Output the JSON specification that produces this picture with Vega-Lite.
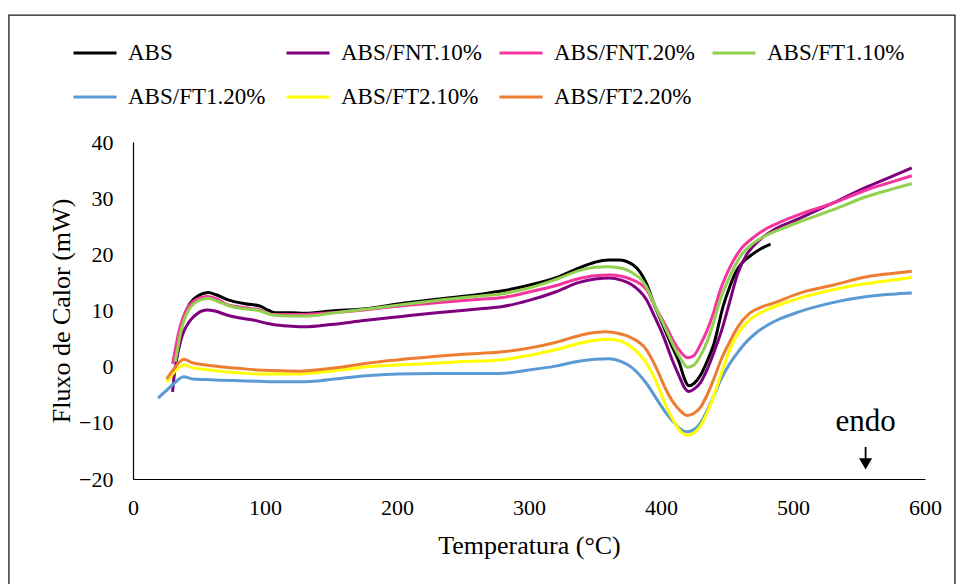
{
  "$schema": "https://vega.github.io/schema/vega-lite/v6.json",
  "width": 792,
  "height": 337,
  "padding": {"left": 8, "top": 14, "right": 0, "bottom": 0},
  "background": "white",
  "config": {
    "font": "Liberation Serif",
    "view": {"stroke": null},
    "style": {"guide-label": {"font": "Liberation Serif"}, "guide-title": {"font": "Liberation Serif"}},
    "axis": {"grid": false, "ticks": false, "tickSize": 0, "domainColor": "#000", "domainWidth": 1.2, "labelColor": "#000", "titleColor": "#000", "titleFontWeight": "normal", "labelFont": "Liberation Serif", "titleFont": "Liberation Serif"},
    "legend": {"labelFont": "Liberation Serif"}
  },
  "datasets": {
    "curves": [
      {"s":"ABS","t":32,"v":1.5},{"s":"ABS","t":35,"v":5.5},{"s":"ABS","t":38,"v":8.5},{"s":"ABS","t":43,"v":11.2},{"s":"ABS","t":50,"v":12.7},{"s":"ABS","t":57,"v":13.2},{"s":"ABS","t":63,"v":12.8},{"s":"ABS","t":72,"v":11.9},{"s":"ABS","t":85,"v":11.2},{"s":"ABS","t":96,"v":10.8},{"s":"ABS","t":103,"v":10.0},{"s":"ABS","t":108,"v":9.6},{"s":"ABS","t":120,"v":9.6},{"s":"ABS","t":130,"v":9.5},{"s":"ABS","t":150,"v":9.9},{"s":"ABS","t":180,"v":10.4},{"s":"ABS","t":202,"v":11.2},{"s":"ABS","t":230,"v":12.0},{"s":"ABS","t":263,"v":12.9},{"s":"ABS","t":280,"v":13.5},{"s":"ABS","t":300,"v":14.5},{"s":"ABS","t":320,"v":15.8},{"s":"ABS","t":338,"v":17.6},{"s":"ABS","t":350,"v":18.6},{"s":"ABS","t":360,"v":19.0},{"s":"ABS","t":368,"v":19.0},{"s":"ABS","t":379,"v":18.1},{"s":"ABS","t":389,"v":14.8},{"s":"ABS","t":395,"v":11.0},{"s":"ABS","t":402,"v":7.1},{"s":"ABS","t":408,"v":3.8},{"s":"ABS","t":414,"v":0.6},{"s":"ABS","t":418,"v":-2.3},{"s":"ABS","t":421,"v":-3.4},{"s":"ABS","t":425,"v":-3.0},{"s":"ABS","t":430,"v":-1.5},{"s":"ABS","t":435,"v":1.0},{"s":"ABS","t":440,"v":4.0},{"s":"ABS","t":447,"v":10.7},{"s":"ABS","t":452,"v":14.2},{"s":"ABS","t":457,"v":17.0},{"s":"ABS","t":462,"v":18.6},{"s":"ABS","t":468,"v":19.8},{"s":"ABS","t":475,"v":20.9},{"s":"ABS","t":483,"v":21.8},

      {"s":"ABS/FNT.10%","t":30,"v":-4.5},{"s":"ABS/FNT.10%","t":31,"v":-2.0},{"s":"ABS/FNT.10%","t":33,"v":1.2},{"s":"ABS/FNT.10%","t":36,"v":4.5},{"s":"ABS/FNT.10%","t":38,"v":6.0},{"s":"ABS/FNT.10%","t":42,"v":7.8},{"s":"ABS/FNT.10%","t":46,"v":8.9},{"s":"ABS/FNT.10%","t":51,"v":9.8},{"s":"ABS/FNT.10%","t":56,"v":10.1},{"s":"ABS/FNT.10%","t":62,"v":9.9},{"s":"ABS/FNT.10%","t":71,"v":9.2},{"s":"ABS/FNT.10%","t":80,"v":8.7},{"s":"ABS/FNT.10%","t":91,"v":8.3},{"s":"ABS/FNT.10%","t":100,"v":7.8},{"s":"ABS/FNT.10%","t":106,"v":7.5},{"s":"ABS/FNT.10%","t":120,"v":7.2},{"s":"ABS/FNT.10%","t":130,"v":7.1},{"s":"ABS/FNT.10%","t":150,"v":7.5},{"s":"ABS/FNT.10%","t":175,"v":8.2},{"s":"ABS/FNT.10%","t":202,"v":8.9},{"s":"ABS/FNT.10%","t":230,"v":9.6},{"s":"ABS/FNT.10%","t":263,"v":10.3},{"s":"ABS/FNT.10%","t":280,"v":10.7},{"s":"ABS/FNT.10%","t":300,"v":11.8},{"s":"ABS/FNT.10%","t":320,"v":13.3},{"s":"ABS/FNT.10%","t":338,"v":15.0},{"s":"ABS/FNT.10%","t":350,"v":15.6},{"s":"ABS/FNT.10%","t":361,"v":15.8},{"s":"ABS/FNT.10%","t":370,"v":15.4},{"s":"ABS/FNT.10%","t":377,"v":14.7},{"s":"ABS/FNT.10%","t":389,"v":11.9},{"s":"ABS/FNT.10%","t":395,"v":9.0},{"s":"ABS/FNT.10%","t":402,"v":5.3},{"s":"ABS/FNT.10%","t":408,"v":1.5},{"s":"ABS/FNT.10%","t":414,"v":-1.8},{"s":"ABS/FNT.10%","t":418,"v":-3.8},{"s":"ABS/FNT.10%","t":421,"v":-4.4},{"s":"ABS/FNT.10%","t":425,"v":-4.0},{"s":"ABS/FNT.10%","t":430,"v":-2.8},{"s":"ABS/FNT.10%","t":435,"v":-0.5},{"s":"ABS/FNT.10%","t":440,"v":2.5},{"s":"ABS/FNT.10%","t":446,"v":6.5},{"s":"ABS/FNT.10%","t":452,"v":11.5},{"s":"ABS/FNT.10%","t":458,"v":16.5},{"s":"ABS/FNT.10%","t":465,"v":20.0},{"s":"ABS/FNT.10%","t":470,"v":21.5},{"s":"ABS/FNT.10%","t":478,"v":23.2},{"s":"ABS/FNT.10%","t":485,"v":24.3},{"s":"ABS/FNT.10%","t":505,"v":26.4},{"s":"ABS/FNT.10%","t":530,"v":29.1},{"s":"ABS/FNT.10%","t":556,"v":32.0},{"s":"ABS/FNT.10%","t":575,"v":33.9},{"s":"ABS/FNT.10%","t":590,"v":35.4},

      {"s":"ABS/FNT.20%","t":30,"v":0.5},{"s":"ABS/FNT.20%","t":32,"v":3.0},{"s":"ABS/FNT.20%","t":34.5,"v":6.0},{"s":"ABS/FNT.20%","t":38,"v":8.8},{"s":"ABS/FNT.20%","t":42,"v":10.7},{"s":"ABS/FNT.20%","t":48,"v":12.0},{"s":"ABS/FNT.20%","t":56,"v":12.5},{"s":"ABS/FNT.20%","t":63,"v":12.1},{"s":"ABS/FNT.20%","t":72,"v":11.0},{"s":"ABS/FNT.20%","t":85,"v":10.5},{"s":"ABS/FNT.20%","t":96,"v":10.1},{"s":"ABS/FNT.20%","t":106,"v":9.3},{"s":"ABS/FNT.20%","t":120,"v":9.3},{"s":"ABS/FNT.20%","t":130,"v":9.3},{"s":"ABS/FNT.20%","t":150,"v":9.6},{"s":"ABS/FNT.20%","t":175,"v":10.1},{"s":"ABS/FNT.20%","t":202,"v":10.8},{"s":"ABS/FNT.20%","t":230,"v":11.4},{"s":"ABS/FNT.20%","t":263,"v":12.0},{"s":"ABS/FNT.20%","t":280,"v":12.3},{"s":"ABS/FNT.20%","t":300,"v":13.3},{"s":"ABS/FNT.20%","t":320,"v":14.4},{"s":"ABS/FNT.20%","t":338,"v":15.7},{"s":"ABS/FNT.20%","t":350,"v":16.2},{"s":"ABS/FNT.20%","t":361,"v":16.3},{"s":"ABS/FNT.20%","t":370,"v":16.1},{"s":"ABS/FNT.20%","t":377,"v":15.6},{"s":"ABS/FNT.20%","t":389,"v":13.7},{"s":"ABS/FNT.20%","t":396,"v":10.5},{"s":"ABS/FNT.20%","t":404,"v":7.1},{"s":"ABS/FNT.20%","t":410,"v":4.3},{"s":"ABS/FNT.20%","t":415,"v":2.6},{"s":"ABS/FNT.20%","t":420,"v":1.6},{"s":"ABS/FNT.20%","t":425,"v":2.0},{"s":"ABS/FNT.20%","t":430,"v":4.0},{"s":"ABS/FNT.20%","t":435,"v":6.5},{"s":"ABS/FNT.20%","t":440,"v":9.8},{"s":"ABS/FNT.20%","t":445,"v":13.7},{"s":"ABS/FNT.20%","t":452,"v":17.6},{"s":"ABS/FNT.20%","t":460,"v":20.8},{"s":"ABS/FNT.20%","t":470,"v":23.0},{"s":"ABS/FNT.20%","t":480,"v":24.6},{"s":"ABS/FNT.20%","t":492,"v":25.9},{"s":"ABS/FNT.20%","t":505,"v":27.1},{"s":"ABS/FNT.20%","t":530,"v":29.1},{"s":"ABS/FNT.20%","t":556,"v":31.5},{"s":"ABS/FNT.20%","t":575,"v":32.9},{"s":"ABS/FNT.20%","t":590,"v":34.0},

      {"s":"ABS/FT1.10%","t":32,"v":0.9},{"s":"ABS/FT1.10%","t":34,"v":3.5},{"s":"ABS/FT1.10%","t":36,"v":6.0},{"s":"ABS/FT1.10%","t":39,"v":8.5},{"s":"ABS/FT1.10%","t":43,"v":10.4},{"s":"ABS/FT1.10%","t":49,"v":11.7},{"s":"ABS/FT1.10%","t":57,"v":12.2},{"s":"ABS/FT1.10%","t":64,"v":11.6},{"s":"ABS/FT1.10%","t":72,"v":10.9},{"s":"ABS/FT1.10%","t":81,"v":10.4},{"s":"ABS/FT1.10%","t":95,"v":10.0},{"s":"ABS/FT1.10%","t":106,"v":9.2},{"s":"ABS/FT1.10%","t":120,"v":9.0},{"s":"ABS/FT1.10%","t":130,"v":9.0},{"s":"ABS/FT1.10%","t":150,"v":9.5},{"s":"ABS/FT1.10%","t":175,"v":10.2},{"s":"ABS/FT1.10%","t":202,"v":11.0},{"s":"ABS/FT1.10%","t":230,"v":11.8},{"s":"ABS/FT1.10%","t":263,"v":12.6},{"s":"ABS/FT1.10%","t":280,"v":13.0},{"s":"ABS/FT1.10%","t":300,"v":14.0},{"s":"ABS/FT1.10%","t":320,"v":15.5},{"s":"ABS/FT1.10%","t":338,"v":17.1},{"s":"ABS/FT1.10%","t":350,"v":17.7},{"s":"ABS/FT1.10%","t":359,"v":17.8},{"s":"ABS/FT1.10%","t":368,"v":17.6},{"s":"ABS/FT1.10%","t":377,"v":16.9},{"s":"ABS/FT1.10%","t":389,"v":14.2},{"s":"ABS/FT1.10%","t":396,"v":10.5},{"s":"ABS/FT1.10%","t":404,"v":6.5},{"s":"ABS/FT1.10%","t":410,"v":3.5},{"s":"ABS/FT1.10%","t":415,"v":1.4},{"s":"ABS/FT1.10%","t":420,"v":-0.1},{"s":"ABS/FT1.10%","t":425,"v":0.3},{"s":"ABS/FT1.10%","t":430,"v":2.0},{"s":"ABS/FT1.10%","t":435,"v":4.5},{"s":"ABS/FT1.10%","t":440,"v":8.0},{"s":"ABS/FT1.10%","t":445,"v":12.0},{"s":"ABS/FT1.10%","t":452,"v":16.0},{"s":"ABS/FT1.10%","t":460,"v":19.6},{"s":"ABS/FT1.10%","t":470,"v":22.0},{"s":"ABS/FT1.10%","t":480,"v":23.4},{"s":"ABS/FT1.10%","t":492,"v":24.6},{"s":"ABS/FT1.10%","t":505,"v":25.8},{"s":"ABS/FT1.10%","t":530,"v":27.9},{"s":"ABS/FT1.10%","t":556,"v":30.3},{"s":"ABS/FT1.10%","t":575,"v":31.6},{"s":"ABS/FT1.10%","t":590,"v":32.6},

      {"s":"ABS/FT1.20%","t":19,"v":-5.6},{"s":"ABS/FT1.20%","t":25,"v":-4.3},{"s":"ABS/FT1.20%","t":31,"v":-3.0},{"s":"ABS/FT1.20%","t":38.5,"v":-1.8},{"s":"ABS/FT1.20%","t":45,"v":-2.2},{"s":"ABS/FT1.20%","t":55,"v":-2.3},{"s":"ABS/FT1.20%","t":66,"v":-2.4},{"s":"ABS/FT1.20%","t":80,"v":-2.5},{"s":"ABS/FT1.20%","t":95,"v":-2.6},{"s":"ABS/FT1.20%","t":106,"v":-2.7},{"s":"ABS/FT1.20%","t":127,"v":-2.7},{"s":"ABS/FT1.20%","t":142,"v":-2.5},{"s":"ABS/FT1.20%","t":160,"v":-2.0},{"s":"ABS/FT1.20%","t":177,"v":-1.6},{"s":"ABS/FT1.20%","t":200,"v":-1.3},{"s":"ABS/FT1.20%","t":228,"v":-1.2},{"s":"ABS/FT1.20%","t":250,"v":-1.2},{"s":"ABS/FT1.20%","t":278,"v":-1.2},{"s":"ABS/FT1.20%","t":300,"v":-0.6},{"s":"ABS/FT1.20%","t":320,"v":0.1},{"s":"ABS/FT1.20%","t":339,"v":1.0},{"s":"ABS/FT1.20%","t":350,"v":1.3},{"s":"ABS/FT1.20%","t":361,"v":1.4},{"s":"ABS/FT1.20%","t":370,"v":0.9},{"s":"ABS/FT1.20%","t":377,"v":0.0},{"s":"ABS/FT1.20%","t":389,"v":-3.0},{"s":"ABS/FT1.20%","t":396,"v":-5.5},{"s":"ABS/FT1.20%","t":404,"v":-8.3},{"s":"ABS/FT1.20%","t":410,"v":-10.0},{"s":"ABS/FT1.20%","t":414,"v":-11.0},{"s":"ABS/FT1.20%","t":420,"v":-11.6},{"s":"ABS/FT1.20%","t":425,"v":-11.2},{"s":"ABS/FT1.20%","t":430,"v":-10.0},{"s":"ABS/FT1.20%","t":435,"v":-7.8},{"s":"ABS/FT1.20%","t":440,"v":-5.2},{"s":"ABS/FT1.20%","t":446,"v":-2.0},{"s":"ABS/FT1.20%","t":452,"v":0.5},{"s":"ABS/FT1.20%","t":458,"v":2.5},{"s":"ABS/FT1.20%","t":465,"v":4.5},{"s":"ABS/FT1.20%","t":472,"v":6.0},{"s":"ABS/FT1.20%","t":480,"v":7.3},{"s":"ABS/FT1.20%","t":490,"v":8.5},{"s":"ABS/FT1.20%","t":505,"v":9.8},{"s":"ABS/FT1.20%","t":530,"v":11.4},{"s":"ABS/FT1.20%","t":556,"v":12.5},{"s":"ABS/FT1.20%","t":575,"v":12.9},{"s":"ABS/FT1.20%","t":590,"v":13.1},

      {"s":"ABS/FT2.10%","t":25.5,"v":-2.8},{"s":"ABS/FT2.10%","t":30,"v":-1.3},{"s":"ABS/FT2.10%","t":38.6,"v":0.3},{"s":"ABS/FT2.10%","t":45,"v":-0.2},{"s":"ABS/FT2.10%","t":55,"v":-0.5},{"s":"ABS/FT2.10%","t":66,"v":-0.8},{"s":"ABS/FT2.10%","t":80,"v":-1.1},{"s":"ABS/FT2.10%","t":95,"v":-1.3},{"s":"ABS/FT2.10%","t":106,"v":-1.3},{"s":"ABS/FT2.10%","t":127,"v":-1.3},{"s":"ABS/FT2.10%","t":142,"v":-1.0},{"s":"ABS/FT2.10%","t":160,"v":-0.5},{"s":"ABS/FT2.10%","t":177,"v":0.0},{"s":"ABS/FT2.10%","t":200,"v":0.3},{"s":"ABS/FT2.10%","t":228,"v":0.6},{"s":"ABS/FT2.10%","t":250,"v":0.9},{"s":"ABS/FT2.10%","t":278,"v":1.2},{"s":"ABS/FT2.10%","t":300,"v":2.0},{"s":"ABS/FT2.10%","t":320,"v":3.0},{"s":"ABS/FT2.10%","t":339,"v":4.2},{"s":"ABS/FT2.10%","t":350,"v":4.7},{"s":"ABS/FT2.10%","t":361,"v":4.9},{"s":"ABS/FT2.10%","t":370,"v":4.5},{"s":"ABS/FT2.10%","t":377,"v":3.6},{"s":"ABS/FT2.10%","t":389,"v":0.6},{"s":"ABS/FT2.10%","t":396,"v":-2.5},{"s":"ABS/FT2.10%","t":404,"v":-7.1},{"s":"ABS/FT2.10%","t":410,"v":-9.8},{"s":"ABS/FT2.10%","t":414,"v":-11.3},{"s":"ABS/FT2.10%","t":420,"v":-12.2},{"s":"ABS/FT2.10%","t":425,"v":-11.8},{"s":"ABS/FT2.10%","t":430,"v":-10.5},{"s":"ABS/FT2.10%","t":435,"v":-8.2},{"s":"ABS/FT2.10%","t":440,"v":-5.2},{"s":"ABS/FT2.10%","t":446,"v":-1.0},{"s":"ABS/FT2.10%","t":452,"v":3.0},{"s":"ABS/FT2.10%","t":460,"v":6.5},{"s":"ABS/FT2.10%","t":467,"v":8.3},{"s":"ABS/FT2.10%","t":480,"v":10.1},{"s":"ABS/FT2.10%","t":492,"v":11.2},{"s":"ABS/FT2.10%","t":505,"v":12.2},{"s":"ABS/FT2.10%","t":530,"v":13.7},{"s":"ABS/FT2.10%","t":556,"v":14.8},{"s":"ABS/FT2.10%","t":575,"v":15.4},{"s":"ABS/FT2.10%","t":590,"v":15.9},

      {"s":"ABS/FT2.20%","t":25.5,"v":-2.2},{"s":"ABS/FT2.20%","t":30,"v":-0.7},{"s":"ABS/FT2.20%","t":38.6,"v":1.3},{"s":"ABS/FT2.20%","t":45,"v":0.7},{"s":"ABS/FT2.20%","t":55,"v":0.3},{"s":"ABS/FT2.20%","t":66,"v":0.0},{"s":"ABS/FT2.20%","t":80,"v":-0.3},{"s":"ABS/FT2.20%","t":95,"v":-0.6},{"s":"ABS/FT2.20%","t":106,"v":-0.7},{"s":"ABS/FT2.20%","t":127,"v":-0.8},{"s":"ABS/FT2.20%","t":142,"v":-0.5},{"s":"ABS/FT2.20%","t":160,"v":0.0},{"s":"ABS/FT2.20%","t":177,"v":0.6},{"s":"ABS/FT2.20%","t":200,"v":1.2},{"s":"ABS/FT2.20%","t":228,"v":1.8},{"s":"ABS/FT2.20%","t":250,"v":2.2},{"s":"ABS/FT2.20%","t":278,"v":2.6},{"s":"ABS/FT2.20%","t":300,"v":3.3},{"s":"ABS/FT2.20%","t":320,"v":4.3},{"s":"ABS/FT2.20%","t":339,"v":5.6},{"s":"ABS/FT2.20%","t":350,"v":6.1},{"s":"ABS/FT2.20%","t":358,"v":6.2},{"s":"ABS/FT2.20%","t":368,"v":5.9},{"s":"ABS/FT2.20%","t":377,"v":5.2},{"s":"ABS/FT2.20%","t":389,"v":3.0},{"s":"ABS/FT2.20%","t":396,"v":0.0},{"s":"ABS/FT2.20%","t":404,"v":-4.2},{"s":"ABS/FT2.20%","t":410,"v":-6.6},{"s":"ABS/FT2.20%","t":414,"v":-7.7},{"s":"ABS/FT2.20%","t":420,"v":-8.7},{"s":"ABS/FT2.20%","t":425,"v":-8.3},{"s":"ABS/FT2.20%","t":430,"v":-7.2},{"s":"ABS/FT2.20%","t":435,"v":-5.0},{"s":"ABS/FT2.20%","t":440,"v":-2.2},{"s":"ABS/FT2.20%","t":446,"v":1.5},{"s":"ABS/FT2.20%","t":452,"v":4.4},{"s":"ABS/FT2.20%","t":458,"v":7.0},{"s":"ABS/FT2.20%","t":467,"v":9.5},{"s":"ABS/FT2.20%","t":476,"v":10.6},{"s":"ABS/FT2.20%","t":485,"v":11.3},{"s":"ABS/FT2.20%","t":505,"v":13.1},{"s":"ABS/FT2.20%","t":530,"v":14.5},{"s":"ABS/FT2.20%","t":556,"v":16.0},{"s":"ABS/FT2.20%","t":575,"v":16.6},{"s":"ABS/FT2.20%","t":590,"v":17.0}
    ],
    "note": [{"label": "endo", "t": 555, "v": -9.9}],
    "arrow": [{"t": 555, "v": -14.3, "v2": -16.8, "head": -17.3}]
  },
  "layer": [
    {
      "data": {"values": [{}]},
      "mark": {"type": "rect", "fill": null, "stroke": "#1a1a1a", "strokeWidth": 1.3},
      "encoding": {
        "x": {"datum": -94, "type": "quantitative", "scale": {"domain": [0, 600]}},
        "x2": {"datum": 622.7},
        "y": {"datum": 62.6, "type": "quantitative", "scale": {"domain": [-20, 40]}},
        "y2": {"datum": -42}
      }
    },
    {
      "data": {"name": "curves"},
      "mark": {"type": "line", "interpolate": "monotone", "strokeWidth": 3},
      "encoding": {
        "x": {"field": "t", "type": "quantitative", "scale": {"domain": [0, 600], "nice": false, "zero": false},
          "axis": {"title": "Temperatura (°C)", "values": [0,100,200,300,400,500,600], "labelFont": "Liberation Serif", "titleFont": "Liberation Serif", "labelFontSize": 22, "titleFontSize": 26, "labelPadding": 18, "titlePadding": 14, "labelFlush": false}},
        "y": {"field": "v", "type": "quantitative", "scale": {"domain": [-20, 40], "nice": false, "zero": false},
          "axis": {"title": "Fluxo de Calor (mW)", "values": [-20,-10,0,10,20,30,40], "labelFont": "Liberation Serif", "titleFont": "Liberation Serif", "labelFontSize": 22, "titleFontSize": 26, "labelPadding": 20, "titlePadding": 4}},
        "color": {"field": "s", "type": "nominal",
          "scale": {"domain": ["ABS","ABS/FNT.10%","ABS/FNT.20%","ABS/FT1.10%","ABS/FT1.20%","ABS/FT2.10%","ABS/FT2.20%"],
                    "range": ["#000000","#7F007F","#F5359F","#92D050","#5B9BD5","#FFFF00","#ED7D31"]},
          "legend": {"title": null, "orient": "none", "direction": "horizontal", "legendX": -61, "legendY": -112, "columns": 4, "symbolType": "stroke", "symbolSize": 1849, "symbolStrokeWidth": 3, "labelFont": "Liberation Serif", "labelFontSize": 23, "labelColor": "#000", "labelOffset": 10, "columnPadding": 11, "rowPadding": 9, "gridAlign": "all", "labelLimit": 0, "padding": 0}}
      }
    },
    {
      "data": {"name": "note"},
      "mark": {"type": "text", "fontSize": 31, "font": "Liberation Serif", "color": "#000", "baseline": "middle", "align": "center"},
      "encoding": {"x": {"field": "t", "type": "quantitative"}, "y": {"field": "v", "type": "quantitative"}, "text": {"field": "label"}}
    },
    {
      "data": {"name": "arrow"},
      "mark": {"type": "rule", "color": "#000", "strokeWidth": 1.8},
      "encoding": {"x": {"field": "t", "type": "quantitative"}, "y": {"field": "v", "type": "quantitative"}, "y2": {"field": "v2"}}
    },
    {
      "data": {"name": "arrow"},
      "mark": {"type": "point", "shape": "triangle-down", "filled": true, "color": "#000", "size": 170, "opacity": 1},
      "encoding": {"x": {"field": "t", "type": "quantitative"}, "y": {"field": "head", "type": "quantitative"}}
    }
  ]
}
